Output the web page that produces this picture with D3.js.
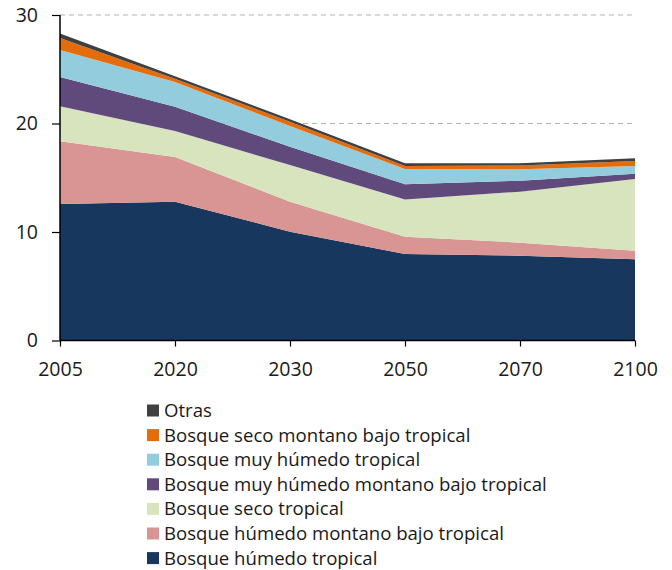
<!DOCTYPE html>
<html><head><meta charset="utf-8">
<script src="https://cdn.jsdelivr.net/npm/d3@7"></script>
<style>body{margin:0;background:#fff}svg{display:block}text{font-family:"Open Sans",sans-serif;fill:#1a1a1a}</style>
</head><body><svg id="c" width="672" height="570"></svg>
<script>
const years = ["2005","2020","2030","2050","2070","2100"];
const seriesNames = ["Bosque húmedo tropical","Bosque húmedo montano bajo tropical","Bosque seco tropical","Bosque muy húmedo montano bajo tropical","Bosque muy húmedo tropical","Bosque seco montano bajo tropical","Otras"];
const bht   = [12.58, 12.79, 10.03, 7.97, 7.82, 7.48];
const bhmbt = [5.78, 4.12, 2.76, 1.60, 1.20, 0.80];
const bst   = [3.24, 2.39, 3.38, 3.43, 4.70, 6.60];
const bmhmbt= [2.69, 2.25, 1.69, 1.40, 1.01, 0.49];
const bmht  = [2.48, 2.27, 1.91, 1.40, 1.05, 0.71];
const bsmbt = [1.11, 0.31, 0.40, 0.28, 0.36, 0.46];
const otras = [0.42, 0.22, 0.22, 0.25, 0.19, 0.25];
const yTicks = [0,10,20,30];
const colors = ["#17375e","#d99594","#d7e4bd","#604a7b","#93cddd","#e46c0a","#404040"];

const seriesVals = [bht,bhmbt,bst,bmhmbt,bmht,bsmbt,otras];
const rows = years.map((y,i)=>{const r={year:y};seriesNames.forEach((n,k)=>r[n]=seriesVals[k][i]);return r;});
const stack = d3.stack().keys(seriesNames)(rows);

const svg = d3.select("#c");
const x = d3.scalePoint().domain(years).range([60,635]);
const y = d3.scaleLinear().domain([0,30]).range([340.5,15]);

svg.append("g").selectAll("line").data(yTicks.filter(t=>t>0)).join("line")
  .attr("x1",60).attr("x2",635).attr("y1",d=>y(d)).attr("y2",d=>y(d))
  .attr("stroke","#b3b3b3").attr("stroke-dasharray","5,4").attr("stroke-width",1);

const area = d3.area().x(d=>x(d.data.year)).y0(d=>y(d[0])).y1(d=>y(d[1]));
svg.append("g").selectAll("path").data(stack).join("path")
  .attr("d",area).attr("fill",(d,i)=>colors[i]);

const ya = svg.append("g").attr("transform","translate(60,0)")
  .call(d3.axisLeft(y).tickValues(yTicks).tickSize(8).tickPadding(14).tickFormat(d3.format("d")));
const xa = svg.append("g").attr("transform","translate(0,340.5)")
  .call(d3.axisBottom(x).tickSize(6).tickPadding(16));
[ya,xa].forEach(a=>{a.select(".domain").attr("stroke","#000").attr("stroke-width",1.5);
  a.selectAll(".tick line").attr("stroke","#000").attr("stroke-width",1.2);
  a.selectAll("text").attr("font-size",19.5).attr("font-family","'Open Sans',sans-serif").attr("fill","#1a1a1a");});
xa.select(".domain").attr("d","M60,0H635");
ya.select(".domain").attr("d","M0,15V340.5");

const leg = svg.append("g");
const legItems = seriesNames.map((n,i)=>({n,c:colors[i]})).reverse();
legItems.forEach((d,i)=>{
  const cy = 410.5 + i*24.6;
  leg.append("rect").attr("x",147).attr("y",cy-6).attr("width",12).attr("height",12).attr("fill",d.c);
  leg.append("text").attr("x",164).attr("y",cy).attr("dy","0.35em").attr("font-size",18.6).text(d.n);
});
</script></body></html>
